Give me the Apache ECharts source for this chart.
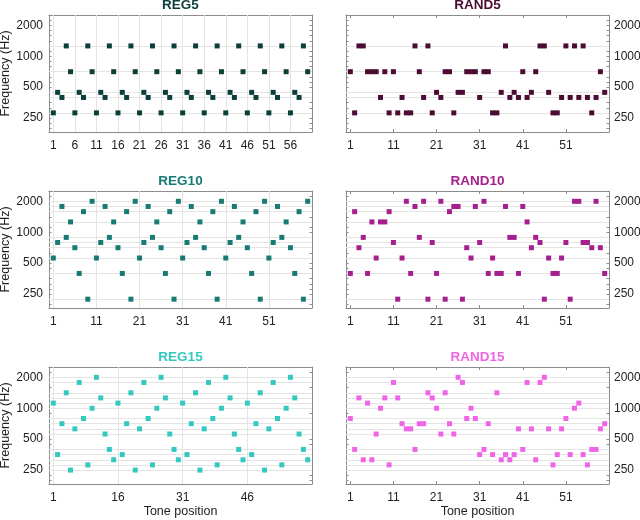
<!DOCTYPE html>
<html><head><meta charset="utf-8">
<script src="https://cdn.jsdelivr.net/npm/echarts@6/dist/echarts.min.js"></script>
<style>html,body{margin:0;padding:0;background:#fff}#c{width:640px;height:520px}</style>
</head><body><div id="c"></div>
<script>
// ---- data (frequency in Hz for tone positions 1..60) ----
const reg5 = [281,445,397,1260,707, 281,445,397,1260,707, 281,445,397,1260,707, 281,445,397,1260,707,
              281,445,397,1260,707, 281,445,397,1260,707, 281,445,397,1260,707, 281,445,397,1260,707,
              281,445,397,1260,707, 281,445,397,1260,707, 281,445,397,1260,707, 281,445,397,1260,707];
const rand5 = [707,281,1260,1260,707,707,707,397,707,281, 707,281,397,281,281,1260,707,397,1260,281,
               445,397,707,707,281,445,445,707,707,707, 397,707,707,281,281,445,1260,397,445,397,
               707,397,445,707,1260,1260,445,281,281,397, 1260,397,1260,397,1260,397,281,397,707,445];
const reg10 = [561,794,1782,891,1260,707,397,1587,223,2000, 561,794,1782,891,1260,707,397,1587,223,2000,
               561,794,1782,891,1260,707,397,1587,223,2000, 561,794,1782,891,1260,707,397,1587,223,2000,
               561,794,1782,891,1260,707,397,1587,223,2000, 561,794,1782,891,1260,707,397,1587,223,2000];
const rand10 = [397,1587,707,891,397,1260,561,1260,1260,1587, 794,223,561,2000,397,1782,891,2000,223,794,
                397,2000,223,1587,1782,1782,223,707,561,1782, 794,2000,397,561,397,397,1782,891,891,397,
                1782,1260,707,891,794,223,561,397,397,561, 794,223,2000,2000,794,794,707,2000,707,397];
const reg15 = [1122,354,707,1414,250,630,1782,794,281,1000,2000,1260,561,397,315,
               1122,354,707,1414,250,630,1782,794,281,1000,2000,1260,561,397,315,
               1122,354,707,1414,250,630,1782,794,281,1000,2000,1260,561,397,315,
               1122,354,707,1414,250,630,1782,794,281,1000,2000,1260,561,397,315];
const rand15 = [794,397,1260,315,1122,315,561,1000,1260,281, 1782,1260,707,630,630,397,707,707,1414,1260,
                1000,561,1414,707,561,2000,1782,794,1000,794, 354,397,707,354,1414,315,354,315,354,630,
                397,1782,630,315,1782,2000,630,281,354,630, 794,354,1000,1122,354,281,397,397,630,707];

// frequency levels of each condition (horizontal reference lines)
const levels5 = [1260,707,445,397,281];
const levels10 = [2000,1782,1587,1260,891,794,707,561,397,223];
const levels15 = [2000,1782,1414,1260,1122,1000,794,707,630,561,397,354,315,281,250];

// tick values
const xTicks5 = [1,6,11,16,21,26,31,36,41,46,51,56];
const xTicks10 = [1,11,21,31,41,51];
const xTicks15 = [1,16,31,46];
const yTickValues = [2245,2000,1782,1587,1414,1260,1122,1000,891,794,707,630,561,500,445,397,354,315,281,250,223,198];
const yLabelValues = [250,500,1000,2000];

// ---- layout / styling ----
const FONT = '"Liberation Sans", Arial, Helvetica, sans-serif';
const AX = '#8c8c8c';
const GRIDC = '#e4e4e4';
const TXT = '#222';
const colLeft = [49, 346], pw = 263;
const rowTop = [15, 191, 367], ph = 117;

const panels = [
  {name:'REG5',   data:reg5,   color:'#0c3f3c', xt:xTicks5,  lv:levels5,  vg:true,  col:0, row:0},
  {name:'RAND5',  data:rand5,  color:'#4b0c34', xt:xTicks10, lv:levels5,  vg:false, col:1, row:0},
  {name:'REG10',  data:reg10,  color:'#187a74', xt:xTicks10, lv:levels10, vg:true,  col:0, row:1},
  {name:'RAND10', data:rand10, color:'#a51f8e', xt:xTicks10, lv:levels10, vg:false, col:1, row:1},
  {name:'REG15',  data:reg15,  color:'#35c8c0', xt:xTicks15, lv:levels15, vg:true,  col:0, row:2},
  {name:'RAND15', data:rand15, color:'#f064e8', xt:xTicks10, lv:levels15, vg:false, col:1, row:2}
];

const grid = [], xAxis = [], yAxis = [], series = [], graphic = [];
panels.forEach((p, i) => {
  grid.push({left: colLeft[p.col], top: rowTop[p.row], width: pw, height: ph, outerBoundsMode: 'none', containLabel: false});
  const baseX = {
    type: 'value', gridIndex: i, min: 0, max: 61,
    axisLine: {show: true, onZero: false, lineStyle: {color: AX, width: 1}},
    axisTick: {show: true, inside: true, length: 3, customValues: p.xt, lineStyle: {color: AX}},
    splitLine: {show: false}
  };
  xAxis.push(Object.assign({}, baseX, {
    position: 'bottom',
    axisLabel: {show: true, customValues: p.xt, fontSize: 12, color: TXT, fontFamily: FONT, margin: 8},
    name: p.row === 2 ? 'Tone position' : '',
    nameLocation: 'middle', nameGap: 21,
    nameTextStyle: {fontSize: 12.5, color: TXT, fontFamily: FONT}
  }));
  xAxis.push(Object.assign({}, baseX, {position: 'top', axisLabel: {show: false}}));
  const baseY = {
    type: 'log', gridIndex: i, min: 183, max: 2520,
    axisLine: {show: true, onZero: false, lineStyle: {color: AX, width: 1}},
    axisTick: {show: true, inside: true, length: 2.5, customValues: yTickValues, lineStyle: {color: AX}},
    splitLine: {show: false}, minorTick: {show: false}
  };
  yAxis.push(Object.assign({}, baseY, {
    position: 'left',
    axisLabel: {show: p.col === 0, customValues: yLabelValues, fontSize: 12, color: TXT, fontFamily: FONT, margin: 6,
                formatter: v => String(Math.round(v))},
    name: p.col === 0 ? 'Frequency (Hz)' : '',
    nameLocation: 'middle', nameGap: 36,
    nameTextStyle: {fontSize: 12.5, color: TXT, fontFamily: FONT}
  }));
  yAxis.push(Object.assign({}, baseY, {
    position: 'right',
    axisLabel: {show: p.col === 1, customValues: yLabelValues, fontSize: 12, color: TXT, fontFamily: FONT, margin: 5,
                formatter: v => String(Math.round(v))}
  }));
  const mlData = p.lv.map(v => ({yAxis: v}));
  if (p.vg) p.xt.forEach(t => mlData.push({xAxis: t}));
  series.push({
    type: 'scatter', xAxisIndex: 2*i, yAxisIndex: 2*i, data: [], z: 1, silent: true,
    markLine: {silent: true, symbol: ['none','none'], label: {show: false}, animation: false,
               lineStyle: {color: GRIDC, width: 1, type: 'solid'}, emphasis: {disabled: true}, data: mlData}
  });
  series.push({
    type: 'scatter', name: p.name, xAxisIndex: 2*i, yAxisIndex: 2*i, z: 5,
    symbol: 'rect', symbolSize: 5, itemStyle: {color: p.color, opacity: 1},
    data: p.data.map((f, k) => [k + 1, f])
  });
  graphic.push({
    type: 'text', left: undefined,
    x: colLeft[p.col] + pw / 2, y: rowTop[p.row] - 10,
    style: {text: p.name, fill: p.color, font: 'bold 13.5px ' + FONT, textAlign: 'center', textVerticalAlign: 'middle'}
  });
});

const chart = echarts.init(document.getElementById('c'), null, {renderer: 'canvas'});
chart.setOption({animation: false, backgroundColor: '#fff', grid, xAxis, yAxis, series, graphic});
</script></body></html>
